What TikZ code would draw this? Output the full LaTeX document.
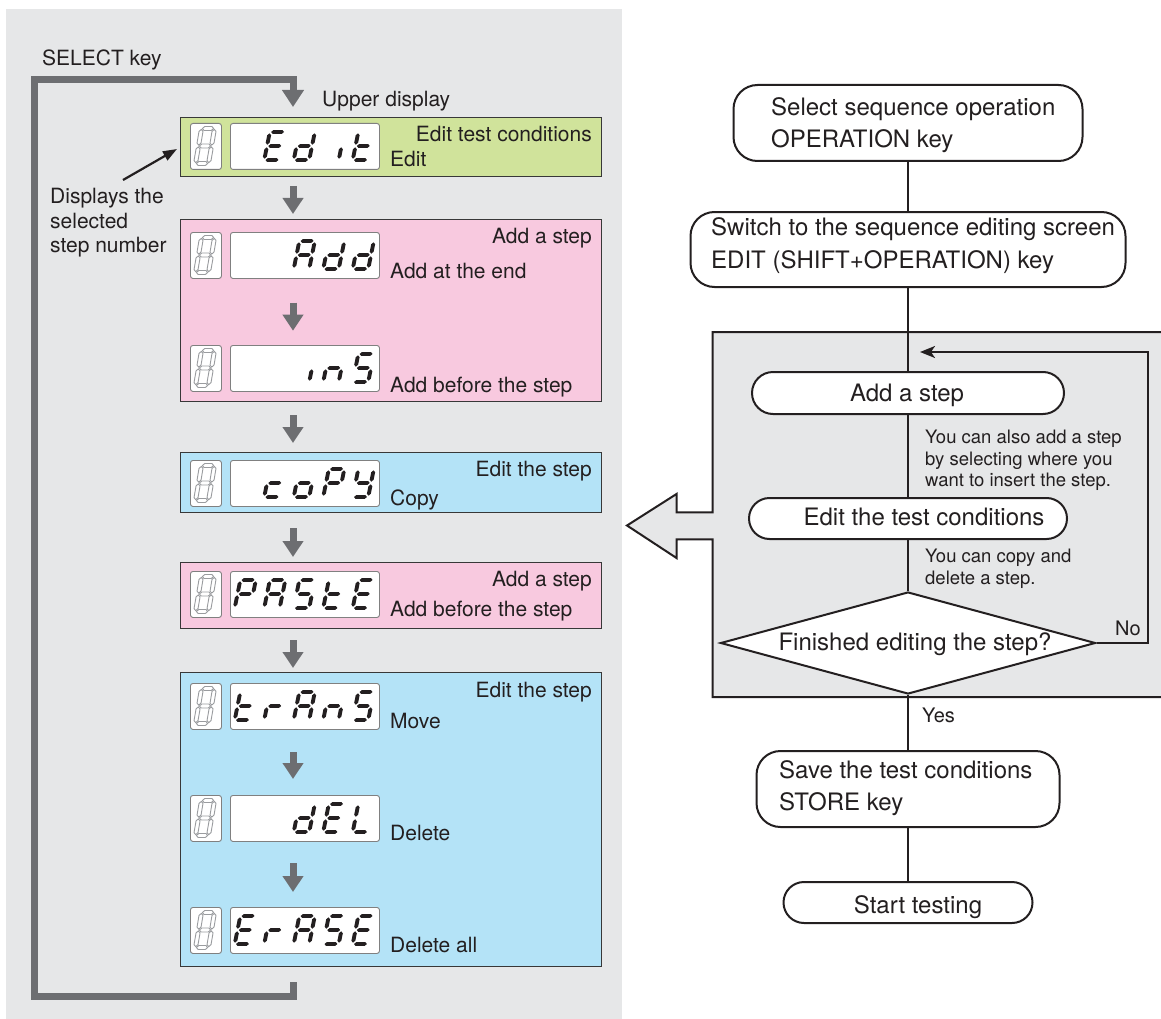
\documentclass[tikz,border=0pt]{standalone}
\usepackage{fontspec}
\setmainfont{TeX Gyre Heros}
\usetikzlibrary{arrows.meta,shapes.geometric}

\definecolor{panel}{HTML}{E6E7E8}
\definecolor{agray}{HTML}{6D6E71}
\definecolor{boxgreen}{HTML}{D0E39B}
\definecolor{boxpink}{HTML}{F8C9DF}
\definecolor{boxblue}{HTML}{B4E3F7}
\definecolor{eightgray}{HTML}{9A9C9F}
\definecolor{ink}{HTML}{231F20}

% hexagonal segments, half thickness \segt
\def\segt{1.6}
\newcommand\hseg[4][]{\filldraw[#1] (#2,#4) -- (#2+\segt,#4-\segt) -- (#3-\segt,#4-\segt) -- (#3,#4) -- (#3-\segt,#4+\segt) -- (#2+\segt,#4+\segt) -- cycle;}
\newcommand\vseg[4][]{\filldraw[#1] (#2,#3) -- (#2+\segt,#3+\segt) -- (#2+\segt,#4-\segt) -- (#2,#4) -- (#2-\segt,#4-\segt) -- (#2-\segt,#3+\segt) -- cycle;}

% grey outlined 8 in the small box (box top-left given)
\newcommand\eight[2]{%
 \begin{scope}[shift={(#1+11.5,#2+5.5)},xslant=0.17]
  \def\segt{2.0}
  \hseg[eseg]{0.9}{12.1}{0}
  \vseg[eseg]{13}{0.9}{16.6}
  \vseg[eseg]{13}{18.4}{34.1}
  \hseg[eseg]{0.9}{12.1}{35}
  \vseg[eseg]{0}{18.4}{34.1}
  \vseg[eseg]{0}{0.9}{16.6}
  \hseg[eseg]{0.9}{12.1}{17.5}
 \end{scope}}

% black seven segment character
\def\chrp#1#2#3#4#5#6#7\relax{%
 \begin{scope}[shift={(\cx,\cy)},xslant=0.2]
  \def\segt{1.95}
  \ifnum#1=1 \hseg[cseg]{1.3}{14.2}{0}\fi
  \ifnum#2=1 \vseg[cseg]{15.5}{1.3}{12.7}\fi
  \ifnum#3=1 \vseg[cseg]{15.5}{15.3}{26.7}\fi
  \ifnum#4=1 \hseg[cseg]{1.3}{14.2}{28}\fi
  \ifnum#5=1 \vseg[cseg]{0}{15.3}{26.7}\fi
  \ifnum#6=1 \vseg[cseg]{0}{1.3}{12.7}\fi
  \ifnum#7=1 \hseg[cseg]{1.3}{14.2}{14}\fi
 \end{scope}}
\newcommand\chr[3]{\pgfmathsetmacro\cx{240.3+29.5*(#1-1)}\def\cy{#2}\expandafter\chrp#3\relax}
\def\zzE{1001111}
\def\zzd{0111101}
\def\zzi{0010000}
\def\zzt{0001111}
\def\zzA{1110111}
\def\zzn{0010101}
\def\zzS{1011011}
\def\zzc{0001101}
\def\zzo{0011101}
\def\zzP{1100111}
\def\zzY{0111011}
\def\zzr{0000101}
\def\zzL{0001110}

\newcommand\disprow[2]{%
 \node[sbox] (#1s) at (190,#2) {};
 \node[mbox] (#1m) at (230,#2) {};
 \eight{190}{#2}}

\newcommand\darr[3]{%
 \coordinate (#1a) at (293,#2);
 \coordinate (#1b) at (293,#3);
 \draw[downarr] (#1a) -- (#1b);}

\tikzset{
 eseg/.style={draw=eightgray, fill=white, line width=0.9},
 cseg/.style={fill=ink, draw=none},
 sbox/.style={draw=black!50, fill=white, line width=0.9, rounded corners=2.5, minimum width=31, minimum height=46, inner sep=0, anchor=north west},
 mbox/.style={draw=black!50, fill=white, line width=0.9, rounded corners=2.5, minimum width=149, minimum height=46, inner sep=0, anchor=north west},
 cbox/.style={draw=black!78, line width=1.2, minimum width=421, inner sep=0, anchor=north west},
 downarr/.style={draw=agray, line width=7, -{Triangle[length=16pt,width=20pt]}},
 loopline/.style={draw=agray, line width=7, line join=miter, -{Triangle[length=17pt,width=21pt]}},
 ptr/.style={draw=ink, line width=2.2, -{Triangle[length=14pt,width=10pt]}},
 lt/.style={font=\fontsize{21}{25}\selectfont, text=ink, inner sep=0, anchor=base west},
 rt/.style={font=\fontsize{21}{25}\selectfont, text=ink, inner sep=0, anchor=base east},
 ft/.style={font=\fontsize{24}{30}\selectfont, text=ink, inner sep=0, anchor=base west},
 fc/.style={font=\fontsize{24}{30}\selectfont, text=ink, inner sep=0, anchor=base},
 nt/.style={font=\fontsize{18.5}{22}\selectfont, text=ink, inner sep=0, anchor=base west},
 yn/.style={font=\fontsize{20}{24}\selectfont, text=ink, inner sep=0, anchor=base west},
 pill/.style={draw=ink, line width=2, fill=white, inner sep=0},
 flow/.style={draw=ink, line width=2},
}

\begin{document}
\begin{tikzpicture}[x=1pt,y=-1pt]
\useasboundingbox (0,0) rectangle (1161,1019);
\fill[white] (0,0) rectangle (1161,1019);

% ---------------- left panel ----------------
\fill[panel] (6,9) rectangle (622,1019);

\coordinate (lpstart) at (293,982);
\coordinate (lpend) at (293,107);
\draw[loopline] (lpstart) -- (293,996) -- (34,996) -- (34,80) -- (293,80) -- (lpend);

\node[cbox, fill=boxgreen, minimum height=59] (bgreen) at (180,117) {};
\node[cbox, fill=boxpink, minimum height=182] (bpink1) at (180,219) {};
\node[cbox, fill=boxblue, minimum height=60] (bblue1) at (180,452) {};
\node[cbox, fill=boxpink, minimum height=66] (bpink2) at (180,562) {};
\node[cbox, fill=boxblue, minimum height=294] (bblue2) at (180,672) {};

\darr{a1}{186}{214}
\darr{a2}{302.7}{330.7}
\darr{a3}{415}{443}
\darr{a4}{528}{557}
\darr{a5}{640}{668}
\darr{a6}{752}{779}
\darr{a7}{863}{892}

\disprow{ed}{123}
\disprow{ad}{232}
\disprow{in}{345}
\disprow{cp}{460}
\disprow{ps}{571}
\disprow{tr}{683}
\disprow{dl}{795}
\disprow{er}{907}

% Edit
\chr{2}{132}{\zzE}\chr{3}{132}{\zzd}\chr{4}{132}{\zzi}\chr{5}{132}{\zzt}
% Add
\chr{3}{241}{\zzA}\chr{4}{241}{\zzd}\chr{5}{241}{\zzd}
% inS
\chr{3}{354}{\zzi}\chr{4}{354}{\zzn}\chr{5}{354}{\zzS}
% coPY
\chr{2}{469}{\zzc}\chr{3}{469}{\zzo}\chr{4}{469}{\zzP}\chr{5}{469}{\zzY}
% PASTE
\chr{1}{580}{\zzP}\chr{2}{580}{\zzA}\chr{3}{580}{\zzS}\chr{4}{580}{\zzt}\chr{5}{580}{\zzE}
% tRAnS
\chr{1}{692}{\zzt}\chr{2}{692}{\zzr}\chr{3}{692}{\zzA}\chr{4}{692}{\zzn}\chr{5}{692}{\zzS}
% dEL
\chr{3}{804}{\zzd}\chr{4}{804}{\zzE}\chr{5}{804}{\zzL}
% ErASE
\chr{1}{916}{\zzE}\chr{2}{916}{\zzr}\chr{3}{916}{\zzA}\chr{4}{916}{\zzS}\chr{5}{916}{\zzE}

\coordinate (dspfrom) at (123,180);
\coordinate (dspto) at (177,149);
\draw[ptr] (dspfrom) -- (dspto);

\node[lt] (tsel) at (42,65.5) {SELECT key};
\node[lt] (tupd) at (322,107) {Upper display};
\node[lt] (tds1) at (50,204) {Displays the};
\node[lt] (tds2) at (50,228) {selected};
\node[lt] (tds3) at (50,252) {step number};

\node[rt] (tg1) at (592,142) {Edit test conditions};
\node[lt] (tg2) at (390,167) {Edit};
\node[rt] (tp1) at (592,243) {Add a step};
\node[lt] (tp2) at (390,278) {Add at the end};
\node[lt] (tp3) at (390,392) {Add before the step};
\node[rt] (tb1) at (592,476) {Edit the step};
\node[lt] (tb2) at (390,505) {Copy};
\node[rt] (tq1) at (592,586) {Add a step};
\node[lt] (tq2) at (390,616) {Add before the step};
\node[rt] (tc1) at (592,697) {Edit the step};
\node[lt] (tc2) at (390,728) {Move};
\node[lt] (tc3) at (390,840) {Delete};
\node[lt] (tc4) at (390,952) {Delete all};

% ---------------- right flowchart ----------------
\draw[line width=2, draw=ink, fill=panel] (712.5,512.3) -- (712.5,332) -- (1180,332) -- (1180,697) -- (712.5,697) -- (712.5,539.3) -- (676.5,539.3) -- (676.5,558) -- (627,525.5) -- (676.5,494) -- (676.5,512.3) -- cycle;

\node[pill, rounded corners=24, minimum width=349, minimum height=76] (n1) at (908,123) {};
\node[pill, rounded corners=24, minimum width=435, minimum height=75] (n2) at (908,249.5) {};
\node[pill, rounded corners=21, minimum width=312, minimum height=42] (n3) at (908,393) {};
\node[pill, rounded corners=20.5, minimum width=318, minimum height=41] (n4) at (908,518.5) {};
\node[pill, shape=diamond, minimum width=375, minimum height=102] (dec) at (908,643) {};
\node[pill, rounded corners=24, minimum width=303, minimum height=76] (save) at (908,789) {};
\node[pill, rounded corners=20.5, minimum width=249, minimum height=41] (start) at (908,902.5) {};

\draw[flow] (n1.south) -- (n2.north);
\draw[flow] (n2.south) -- (n3.north);
\draw[flow] (n3.south) -- (n4.north);
\draw[flow] (n4.south) -- (dec.north);
\draw[flow] (dec.south) -- (save.north);
\draw[flow] (save.south) -- (start.north);
\coordinate (loopend) at (920,352);
\draw[flow, -{Stealth[length=15pt,width=12pt,inset=4pt]}] (dec.east) -- ++(51.5,0) |- (loopend);

\node[ft] (r1a) at (771,115.7) {Select sequence operation};
\node[ft] (r1b) at (771,148) {OPERATION key};
\node[ft] (r2a) at (711,235.7) {Switch to the sequence editing screen};
\node[ft] (r2b) at (711,268) {EDIT (SHIFT+OPERATION) key};
\node[fc] (r3) at (907,401.7) {Add a step};
\node[fc] (r4) at (924,525) {Edit the test conditions};
\node[fc] (r5) at (915,650) {Finished editing the step?};
\node[ft] (r6a) at (779,778) {Save the test conditions};
\node[ft] (r6b) at (779,810.7) {STORE key};
\node[fc] (r7) at (918,913) {Start testing};

\node[nt] (m1) at (925,443) {You can also add a step};
\node[nt] (m2) at (925,465) {by selecting where you};
\node[nt] (m3) at (925,486) {want to insert the step.};
\node[nt] (m4) at (925,562) {You can copy and};
\node[nt] (m5) at (925,584) {delete a step.};
\node[yn] (tno) at (1115,635) {No};
\node[yn] (tyes) at (922,722) {Yes};
\end{tikzpicture}
\end{document}
